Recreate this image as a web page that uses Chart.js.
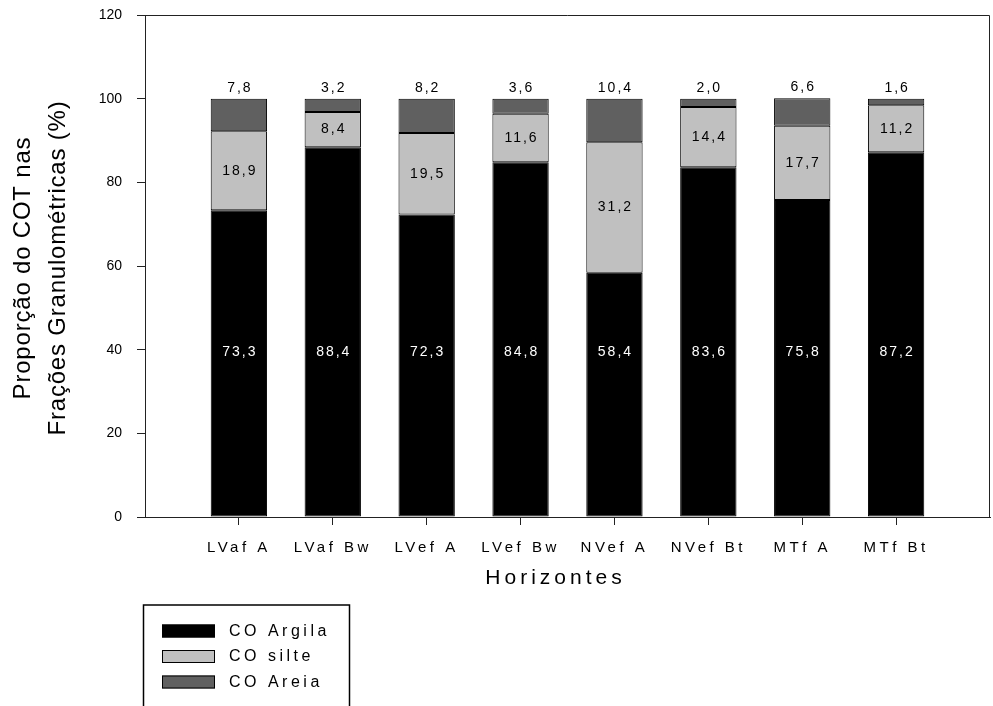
<!DOCTYPE html>
<html><head><meta charset="utf-8">
<script src="https://cdn.jsdelivr.net/npm/chart.js@4.4.1/dist/chart.umd.min.js"></script>
<style>html,body{margin:0;padding:0;background:#fff;}</style>
</head><body>
<canvas id="c" width="993" height="706"></canvas>
<script>
const categories = ['LVaf A','LVaf Bw','LVef A','LVef Bw','NVef A','NVef Bt','MTf A','MTf Bt'];
const argila = [73.3, 88.4, 72.3, 84.8, 58.4, 83.6, 75.8, 87.2];
const silte  = [18.9, 8.4, 19.5, 11.6, 31.2, 14.4, 17.7, 11.2];
const areia  = [7.8, 3.2, 8.2, 3.6, 10.4, 2.0, 6.6, 1.6];
const seriesNames = ['CO Argila','CO silte','CO Areia'];
const seriesColors = ['#000000','#c0c0c0','#606060'];
const yTicks = [0,20,40,60,80,100,120];
const xTitle = 'Horizontes';
const yTitle = ['Proporção do COT nas','Frações Granulométricas (%)'];

const FONT = "'Liberation Sans', Arial, Helvetica, sans-serif";
Chart.defaults.font.family = FONT;
Chart.defaults.color = '#000';

const fmt = v => v.toFixed(1).replace('.', ',');
const AXIS = '#222';

function wrapScale(scale, labelSp, titleSp, dx, dy) {
  if (!scale || scale.__wrapped) return;
  const dl = scale.drawLabels, dt = scale.drawTitle;
  scale.drawLabels = function (...a) {
    const c = this.ctx; c.save(); c.letterSpacing = labelSp; dl.apply(this, a); c.restore();
  };
  scale.drawTitle = function (...a) {
    const c = this.ctx; c.save(); c.letterSpacing = titleSp; c.translate(dx, dy); dt.apply(this, a); c.restore();
  };
  scale.__wrapped = true;
}

const spacingPlugin = {
  id: 'spacing',
  afterUpdate(chart) {
    wrapScale(chart.scales.x, '3.5px', '4px', -12, 0);
    wrapScale(chart.scales.y, '0px', '0.8px', 0, 2);
  }
};

const framePlugin = {
  id: 'frame',
  afterDraw(chart) {
    const {ctx, chartArea: a} = chart;
    ctx.save();
    ctx.strokeStyle = AXIS; ctx.lineWidth = 1;
    const t = Math.round(a.top) + 0.5, r = Math.round(a.right) - 0.5, b = Math.round(a.bottom) + 0.5;
    ctx.beginPath();
    ctx.moveTo(a.left, t); ctx.lineTo(r, t); ctx.lineTo(r, b);
    ctx.stroke();
    ctx.restore();
  }
};

const labelsPlugin = {
  id: 'barLabels',
  afterDatasetsDraw(chart) {
    const {ctx, scales: {y}} = chart;
    ctx.save();
    ctx.font = '14px ' + FONT;
    ctx.letterSpacing = '2px';
    ctx.textAlign = 'center';
    ctx.textBaseline = 'middle';
    const m0 = chart.getDatasetMeta(0), m1 = chart.getDatasetMeta(1), m2 = chart.getDatasetMeta(2);
    categories.forEach((c, i) => {
      const e0 = m0.data[i], e1 = m1.data[i], e2 = m2.data[i];
      ctx.fillStyle = '#fff';
      ctx.fillText(fmt(argila[i]), e0.x + 1, y.getPixelForValue(39.5));
      ctx.fillStyle = '#000';
      ctx.fillText(fmt(silte[i]), e1.x + 1, (e1.y + e1.base) / 2);
      ctx.fillText(fmt(areia[i]), e2.x + 1, e2.y - 11);
    });
    ctx.restore();
  }
};

const legendPlugin = {
  id: 'boxLegend',
  afterDraw(chart) {
    const {ctx} = chart;
    ctx.save();
    ctx.strokeStyle = '#000'; ctx.lineWidth = 1.5;
    ctx.strokeRect(143.5, 605, 206, 140);
    ctx.font = '16px ' + FONT;
    ctx.letterSpacing = '3.5px';
    ctx.textBaseline = 'middle';
    ctx.textAlign = 'left';
    chart.data.datasets.forEach((ds, i) => {
      const yy = 624.5 + i * 25.5;
      ctx.fillStyle = ds.backgroundColor;
      ctx.fillRect(162, yy, 53, 13);
      ctx.lineWidth = 1; ctx.strokeStyle = '#000';
      ctx.strokeRect(162.5, yy + 0.5, 52, 12);
      ctx.fillStyle = '#000';
      ctx.fillText(ds.label, 229, yy + 7);
    });
    ctx.restore();
  }
};

const mk = (vals) => vals.map((v, i) => ({x: i + 1, y: v}));
const seriesData = [argila, silte, areia];

new Chart(document.getElementById('c'), {
  type: 'bar',
  data: {
    datasets: seriesNames.map((n, k) => ({
      label: n,
      data: mk(seriesData[k]),
      stack: 'total',
      backgroundColor: seriesColors[k],
      borderColor: '#000',
      borderWidth: 1,
      borderSkipped: false,
      barPercentage: 0.6,
      categoryPercentage: 1.0
    }))
  },
  options: {
    responsive: false,
    animation: false,
    devicePixelRatio: 1,
    layout: {padding: {top: 15, right: 3, left: 0, bottom: 0}},
    plugins: {legend: {display: false}, tooltip: {enabled: false}},
    scales: {
      x: {
        type: 'linear', min: 0, max: categories.length + 1, offset: false,
        afterBuildTicks: s => { s.ticks = categories.map((c, i) => ({value: i + 1})); },
        afterFit: s => { s.height = 189; },
        ticks: {callback: v => categories[v - 1] ?? '', font: {size: 15}, color: '#000', padding: 14, maxRotation: 0, autoSkip: false},
        grid: {offset: false, drawOnChartArea: false, drawTicks: true, tickLength: 8, tickColor: AXIS, tickWidth: 1},
        border: {display: true, color: AXIS, width: 1},
        title: {display: true, text: xTitle, font: {size: 21}, color: '#000', padding: {top: 0, bottom: 115}}
      },
      y: {
        stacked: true, min: 0, max: 120,
        afterBuildTicks: s => { s.ticks = yTicks.map(v => ({value: v})); },
        afterFit: s => { s.width = 145; s.paddingTop = 0; s.paddingBottom = 0; },
        ticks: {font: {size: 14}, color: '#000', padding: 15},
        grid: {drawOnChartArea: false, drawTicks: true, tickLength: 8, tickColor: AXIS},
        border: {display: true, color: AXIS, width: 1},
        title: {display: true, text: yTitle, font: {size: 24, lineHeight: 1.46}, color: '#000', padding: {top: 6, bottom: 0}}
      }
    }
  },
  plugins: [spacingPlugin, labelsPlugin, framePlugin, legendPlugin]
});
</script>
</body></html>
